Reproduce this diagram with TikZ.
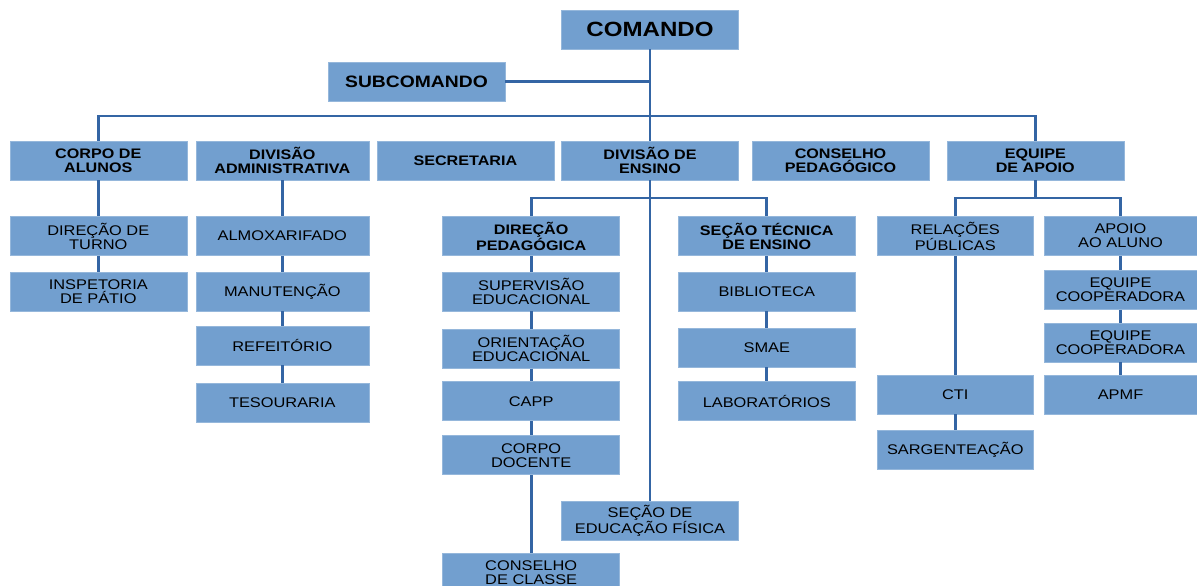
\documentclass[tikz,border=0pt]{standalone}
\usepackage{fontspec}
\setmainfont{Liberation Sans}[FakeStretch=1.17]
\definecolor{boxblu}{HTML}{729FCF}
\definecolor{lineablu}{HTML}{3465A4}

\begin{document}
\begin{tikzpicture}[x=1pt,y=-1pt,
        box/.style={fill=boxblu,draw=boxblu!75!white,line width=0.6pt,inner sep=0pt,
            minimum width=177pt,minimum height=39pt,align=center,text=black,
            font=\fontsize{14}{14}\selectfont},
        boxb/.style={box,font=\fontsize{13.8}{14}\selectfont\bfseries},
        linea/.style={draw=lineablu,line width=2.9pt}]
        \useasboundingbox (0,0) rectangle (1197,586);
        % Comando e subcomando
        \node [box,font=\fontsize{20.6}{20.6}\selectfont\bfseries] (comando) at (650,29.5) {COMANDO};
        \node [box,font=\fontsize{16.5}{16.5}\selectfont\bfseries] (subcomando) at (416.5,81.5) {SUBCOMANDO};
        % Livello 1
        \node [boxb] (corpo) at (98.3,160.5) {CORPO DE\\ALUNOS};
        \node [boxb,minimum width=173pt] (divadm) at (282.3,160.5) {DIVISÃO\\ADMINISTRATIVA};
        \node [boxb] (secretaria) at (465.4,160.5) {SECRETARIA};
        \node [boxb] (divens) at (650,160.5) {DIVISÃO DE\\ENSINO};
        \node [boxb] (consped) at (840.5,160.5) {CONSELHO\\PEDAGÓGICO};
        \node [boxb] (equipe) at (1035.3,160.5) {EQUIPE\\DE APOIO};
        % Corpo de alunos
        \node [box] (dirturno) at (98.3,236) {DIREÇÃO DE\\TURNO};
        \node [box] (inspetoria) at (98.3,291.5) {INSPETORIA\\DE PÁTIO};
        % Divisão administrativa
        \node [box,minimum width=173pt] (almox) at (282.3,236) {ALMOXARIFADO};
        \node [box,minimum width=173pt] (manut) at (282.3,291.5) {MANUTENÇÃO};
        \node [box,minimum width=173pt] (refeit) at (282.3,345.5) {REFEITÓRIO};
        \node [box,minimum width=173pt] (tesour) at (282.3,402.8) {TESOURARIA};
        % Divisão de ensino
        \node [boxb] (dirped) at (531.2,236) {DIREÇÃO\\PEDAGÓGICA};
        \node [box] (superv) at (531.2,291.5) {SUPERVISÃO\\EDUCACIONAL};
        \node [box] (orient) at (531.2,348.8) {ORIENTAÇÃO\\EDUCACIONAL};
        \node [box] (capp) at (531.2,401.2) {CAPP};
        \node [box] (docente) at (531.2,455.2) {CORPO\\DOCENTE};
        \node [box] (consclasse) at (531.2,572.8) {CONSELHO\\DE CLASSE};
        \node [boxb] (secaotec) at (766.8,236) {SEÇÃO TÉCNICA\\DE ENSINO};
        \node [box] (biblio) at (766.8,291.5) {BIBLIOTECA};
        \node [box] (smae) at (766.8,347.3) {SMAE};
        \node [box] (lab) at (766.8,401.2) {LABORATÓRIOS};
        \node [box] (edfis) at (650,520.7) {SEÇÃO DE\\EDUCAÇÃO FÍSICA};
        % Equipe de apoio
        \node [box,minimum width=155.4pt] (relacoes) at (955.3,236) {RELAÇÕES\\PÚBLICAS};
        \node [box,minimum width=155.4pt] (cti) at (955.3,394.5) {CTI};
        \node [box,minimum width=155.4pt] (sargent) at (955.3,450) {SARGENTEAÇÃO};
        \node [box,minimum width=153pt] (apoio) at (1120.5,236) {APOIO\\AO ALUNO};
        \node [box,minimum width=153pt] (eqcoop) at (1120.5,290) {EQUIPE\\COOPERADORA};
        \node [box,minimum width=153pt] (eqcoopb) at (1120.5,342.3) {EQUIPE\\COOPERADORA};
        \node [box,minimum width=153pt] (apmf) at (1120.5,394.5) {APMF};
        % Collegamenti
        \coordinate (bus) at (650,116);
        \coordinate (ensbus) at (650,198);
        \coordinate (apbus) at (1035.3,198);
        \draw [linea] (comando) -- (divens);
        \draw [linea] (divens) -- (edfis);
        \draw [linea] (subcomando.east) -- (subcomando.east -| comando.south);
        \draw [linea] (corpo.north) |- (bus) -| (equipe.north);
        \draw [linea] (corpo) -- (dirturno) -- (inspetoria);
        \draw [linea] (divadm) -- (almox) -- (manut) -- (refeit) -- (tesour);
        \draw [linea] (dirped.north) |- (ensbus) -| (secaotec.north);
        \draw [linea] (dirped) -- (superv) -- (orient) -- (capp) -- (docente) -- (consclasse);
        \draw [linea] (secaotec) -- (biblio) -- (smae) -- (lab);
        \draw [linea] (equipe) -- (apbus);
        \draw [linea] (relacoes.north) |- (apbus) -| (apoio.north);
        \draw [linea] (relacoes) -- (cti) -- (sargent);
        \draw [linea] (apoio) -- (eqcoop) -- (eqcoopb) -- (apmf);
\end{tikzpicture}
\end{document}
